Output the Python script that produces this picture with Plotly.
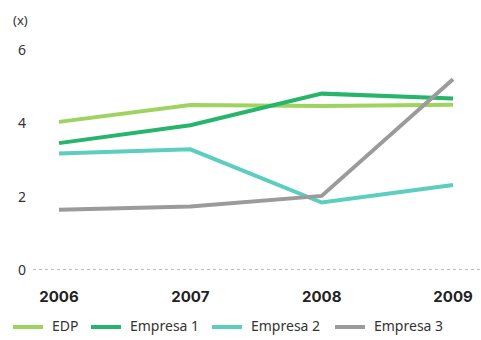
import plotly.graph_objects as go

years = [2006, 2007, 2008, 2009]
edp = [4.04, 4.50, 4.47, 4.51]
empresa1 = [3.46, 3.95, 4.81, 4.68]
empresa2 = [3.18, 3.29, 1.84, 2.32]
empresa3 = [1.64, 1.73, 2.02, 5.20]

names = ["EDP", "Empresa 1", "Empresa 2", "Empresa 3"]
colors = ["#9fd35f", "#27b46b", "#5ccec0", "#9b9b9b"]
values = [edp, empresa1, empresa2, empresa3]

W, H = 481, 340
L, R, T, B = 33, 0, 50, 70
plot_w, plot_h = W - L - R, H - T - B


def px_to_paper(px, py):
    return (px - L) / plot_w, (H - B - py) / plot_h


fig = go.Figure()
for name, vals, color in zip(names, values, colors):
    fig.add_trace(go.Scatter(
        x=years, y=vals, name=name, mode="lines",
        line=dict(color=color, width=4), showlegend=False,
    ))

# dotted baseline at zero
fig.add_shape(type="line", xref="paper", yref="y", x0=0, x1=1, y0=0, y1=0,
              line=dict(color="#777777", width=1, dash="dot"))

# unit label above the value axis
ux, uy = px_to_paper(20, 20)
fig.add_annotation(text="(x)", xref="paper", yref="paper", x=ux, y=uy,
                   showarrow=False, font=dict(size=13, color="#333333"),
                   xanchor="center", yanchor="middle")

# legend row along the bottom
legend_x = [13, 91, 212, 335]
legend_y = 327
for name, color, sx in zip(names, colors, legend_x):
    x0, y0 = px_to_paper(sx, legend_y)
    x1, _ = px_to_paper(sx + 30, legend_y)
    fig.add_shape(type="line", xref="paper", yref="paper",
                  x0=x0, x1=x1, y0=y0, y1=y0,
                  line=dict(color=color, width=4))
    tx, ty = px_to_paper(sx + 37, legend_y - 1)
    fig.add_annotation(text=name, xref="paper", yref="paper", x=tx, y=ty,
                       showarrow=False, xanchor="left", yanchor="middle",
                       font=dict(size=14, color="#333333"))

fig.update_layout(
    width=W, height=H,
    margin=dict(l=L, r=R, t=T, b=B),
    plot_bgcolor="white", paper_bgcolor="white",
    font=dict(family="Noto Sans", color="#333333"),
    showlegend=False,
    xaxis=dict(range=[2005.802, 2009.213], tickvals=years,
               ticktext=[f"<b>{y}</b>" for y in years],
               showgrid=False, zeroline=False, showline=False,
               tickfont=dict(size=15, color="#222222", family="Inter"),
               ticklabelstandoff=16),
    yaxis=dict(range=[0, 6], tickvals=[0, 2, 4, 6], showgrid=False,
               zeroline=False, showline=False,
               tickfont=dict(size=14, color="#333333"),
               ticklabelstandoff=6),
)

fig.write_html("out.html")
